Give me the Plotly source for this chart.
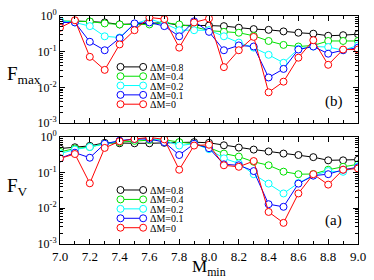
import plotly.graph_objects as go

m_min = [7.0, 7.1, 7.2, 7.3, 7.4, 7.5, 7.6, 7.7, 7.8, 7.9, 8.0,
         8.1, 8.2, 8.3, 8.4, 8.5, 8.6, 8.7, 8.8, 8.9, 9.0]

series_names = ["ΔM=0.8", "ΔM=0.4", "ΔM=0.2", "ΔM=0.1", "ΔM=0"]
series_colors = ["#000000", "#00e000", "#00ffff", "#0000ff", "#ff0000"]

# panel (b): F_max
fmax_08 = [0.66, 0.72, 0.70, 0.66, 0.58, 0.60, 0.63, 0.65, 0.55, 0.55, 0.54,
           0.52, 0.47, 0.43, 0.41, 0.37, 0.34, 0.32, 0.28, 0.29, 0.31]
fmax_04 = [0.73, 0.70, 0.70, 0.62, 0.58, 0.58, 0.58, 0.66, 0.58, 0.50, 0.39,
           0.36, 0.34, 0.28, 0.20, 0.155, 0.14, 0.15, 0.20, 0.20, 0.20]
fmax_02 = [0.74, 0.66, 0.52, 0.27, 0.25, 0.60, 0.82, 0.62, 0.40, 0.40, 0.40,
           0.27, 0.18, 0.13, 0.082, 0.049, 0.12, 0.14, 0.135, 0.11, 0.15]
fmax_01 = [0.66, 0.66, 0.19, 0.11, 0.24, 0.62, 0.66, 0.52, 0.27, 0.71, 0.36,
           0.11, 0.15, 0.14, 0.019, 0.033, 0.115, 0.14, 0.088, 0.11, 0.13]
fmax_0 = [0.47, 0.76, 0.072, 0.031, 0.16, 0.40, 0.91, 0.82, 0.13, 0.66, 0.85,
          0.037, 0.11, 0.26, 0.0073, 0.0145, 0.068, 0.21, 0.043, 0.115, 0.115]

# panel (a): F_V
fv_08 = [0.47, 0.51, 0.56, 0.68, 0.66, 0.66, 0.66, 0.68, 0.70, 0.71, 0.68,
         0.58, 0.50, 0.44, 0.39, 0.34, 0.31, 0.27, 0.22, 0.22, 0.23]
fv_04 = [0.38, 0.47, 0.52, 0.64, 0.71, 0.77, 0.81, 0.83, 0.71, 0.64, 0.50,
         0.34, 0.28, 0.20, 0.16, 0.106, 0.09, 0.091, 0.12, 0.145, 0.17]
fv_02 = [0.34, 0.44, 0.52, 0.64, 0.77, 0.85, 0.90, 0.80, 0.57, 0.64, 0.45,
         0.25, 0.18, 0.09, 0.049, 0.026, 0.051, 0.083, 0.11, 0.105, 0.15]
fv_01 = [0.25, 0.36, 0.26, 0.64, 0.78, 0.87, 0.87, 0.71, 0.31, 0.64, 0.48,
         0.17, 0.16, 0.11, 0.013, 0.011, 0.049, 0.082, 0.09, 0.12, 0.14]
fv_0 = [0.25, 0.33, 0.050, 0.49, 0.75, 0.87, 0.96, 0.85, 0.12, 0.57, 0.60,
        0.16, 0.145, 0.21, 0.0079, 0.0039, 0.026, 0.09, 0.046, 0.12, 0.13]

ytick_vals = [1e-3, 1e-2, 1e-1, 1]
ytick_text = ["10<sup>-3</sup>", "10<sup>-2</sup>", "10<sup>-1</sup>", "10<sup>0</sup>"]
minor_vals = [k * 10.0 ** e for e in (-3, -2, -1) for k in range(2, 10)]

FONT = "Liberation Serif"

fig = go.Figure()
top = [fmax_08, fmax_04, fmax_02, fmax_01, fmax_0]
bottom = [fv_08, fv_04, fv_02, fv_01, fv_0]
for vals, name, col in zip(top, series_names, series_colors):
    fig.add_trace(go.Scatter(x=m_min, y=vals, mode="lines+markers", name=name,
                             line=dict(color=col, width=1),
                             marker=dict(symbol="circle", size=7, color="white",
                                         line=dict(color=col, width=1)),
                             xaxis="x", yaxis="y", showlegend=False))
for vals, name, col in zip(bottom, series_names, series_colors):
    fig.add_trace(go.Scatter(x=m_min, y=vals, mode="lines+markers", name=name,
                             line=dict(color=col, width=1),
                             marker=dict(symbol="circle", size=7, color="white",
                                         line=dict(color=col, width=1)),
                             xaxis="x2", yaxis="y2", showlegend=False))

xcommon = dict(range=[7.0, 9.0], dtick=0.2, tick0=7.0, tickformat=".1f",
               ticks="inside", ticklen=5, tickcolor="black", showline=True,
               linecolor="black", linewidth=1, mirror="ticks", showgrid=False,
               zeroline=False,
               minor=dict(dtick=0.1, ticks="inside", ticklen=3, tickcolor="black",
                          showgrid=False),
               tickfont=dict(family=FONT, size=13, color="black"))
ycommon = dict(type="log", range=[-3, 0], tickmode="array", tickvals=ytick_vals,
               ticktext=ytick_text, ticks="inside", ticklen=5, tickcolor="black",
               showline=True, linecolor="black", linewidth=1, mirror="ticks",
               showgrid=False, zeroline=False,
               minor=dict(tickmode="array", tickvals=minor_vals, ticks="inside",
                          ticklen=3, tickcolor="black", showgrid=False),
               tickfont=dict(family=FONT, size=12, color="black"))

fig.update_layout(
    width=374, height=280,
    margin=dict(l=60, r=9, t=8, b=36),
    paper_bgcolor="white", plot_bgcolor="white",
    showlegend=False,
    xaxis=dict(xcommon, domain=[0, 1], anchor="y", showticklabels=False),
    yaxis=dict(ycommon, domain=[0.53, 1.0], anchor="x"),
    xaxis2=dict(xcommon, domain=[0, 1], anchor="y2"),
    yaxis2=dict(ycommon, domain=[0.0, 0.47], anchor="x2"),
)

annotations = [
    dict(text="F<sub>max</sub>", xref="paper", yref="paper", x=-0.185, y=0.74,
         xanchor="left", yanchor="middle", showarrow=False,
         font=dict(family=FONT, size=19, color="black")),
    dict(text="F<sub>V</sub>", xref="paper", yref="paper", x=-0.185, y=0.25,
         xanchor="left", yanchor="middle", showarrow=False,
         font=dict(family=FONT, size=19, color="black")),
    dict(text="M<sub>min</sub>", xref="paper", yref="paper", x=0.5, y=-0.05,
         xanchor="center", yanchor="top", showarrow=False,
         font=dict(family=FONT, size=17, color="black")),
    dict(text="(b)", xref="x domain", yref="y domain", x=0.918, y=0.2,
         xanchor="center", yanchor="middle", showarrow=False,
         font=dict(family=FONT, size=15, color="black")),
    dict(text="(a)", xref="x2 domain", yref="y2 domain", x=0.918, y=0.22,
         xanchor="center", yanchor="middle", showarrow=False,
         font=dict(family=FONT, size=15, color="black")),
]

shapes = []
# hand-built legends (one per panel), matching the compact xmgrace style
legend_specs = [("x domain", "y domain", 0.525, 0.087),
                ("x2 domain", "y2 domain", 0.504, 0.088)]
x_left, x_right, x_text = 0.203, 0.279, 0.295
for xr, yr, y0, step in legend_specs:
    for i, (name, col) in enumerate(zip(series_names, series_colors)):
        yy = y0 - i * step
        shapes.append(dict(type="line", xref=xr, yref=yr, x0=x_left, x1=x_right,
                           y0=yy, y1=yy, line=dict(color=col, width=1)))
        for xc in (x_left, x_right):
            shapes.append(dict(type="circle", xref=xr, yref=yr,
                               xsizemode="pixel", ysizemode="pixel",
                               xanchor=xc, yanchor=yy,
                               x0=-3.5, x1=3.5, y0=-3.5, y1=3.5,
                               fillcolor="white", line=dict(color=col, width=1)))
        annotations.append(dict(text=name, xref=xr, yref=yr, x=x_text, y=yy,
                                xanchor="left", yanchor="middle", showarrow=False,
                                height=10,
                                font=dict(family=FONT, size=10, color="black")))

fig.update_layout(annotations=annotations, shapes=shapes)
fig.write_html("out.html",
               config={"displayModeBar": False},
               post_script="document.body.style.margin='0px';"
                           "document.body.style.overflow='hidden';")
